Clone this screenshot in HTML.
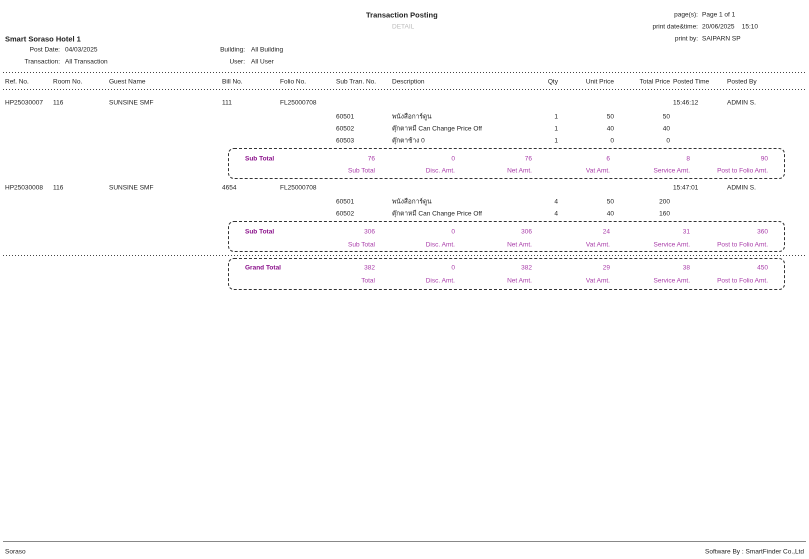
<!DOCTYPE html>
<html><head><meta charset="utf-8"><style>
body{margin:0;width:809px;height:559px;background:#fff;position:relative;overflow:hidden;font-family:"Liberation Sans","Noto Sans CJK SC",sans-serif;font-size:6.5px;color:#222}
.t{position:absolute;white-space:nowrap;line-height:10px;transform:translateY(1.5px)}
.r{text-align:right}
.b{font-weight:bold}
.p{color:#a83aa8}
.pb{color:#8a0f8a;font-weight:bold}
.dl{position:absolute;left:3px;right:3px;height:1px;background:repeating-linear-gradient(90deg,#444 0 1px,transparent 1px 3px)}
.box{position:absolute;left:228px;width:555px;border:1px dashed #333;border-radius:6px}
</style></head><body>
<div class="t b" style="left:366px;top:9px;font-size:7.5px">Transaction Posting</div>
<div class="t" style="left:392px;top:21px;color:#bbb">DETAIL</div>
<div class="t r" style="left:600px;width:98px;top:9px">page(s):</div>
<div class="t" style="left:702px;top:9px">Page 1 of 1</div>
<div class="t r" style="left:600px;width:98px;top:21px">print date&amp;time:</div>
<div class="t" style="left:702px;top:21px">20/06/2025&nbsp;&nbsp;&nbsp;&nbsp;15:10</div>
<div class="t r" style="left:600px;width:98px;top:33px">print by:</div>
<div class="t" style="left:702px;top:33px">SAIPARN SP</div>
<div class="t b" style="left:5px;top:33px;font-size:7.5px">Smart Soraso Hotel 1</div>
<div class="t r" style="left:0;width:60px;top:44px">Post Date:</div>
<div class="t" style="left:65px;top:44px">04/03/2025</div>
<div class="t r" style="left:0;width:60px;top:56px">Transaction:</div>
<div class="t" style="left:65px;top:56px">All Transaction</div>
<div class="t r" style="left:180px;width:65px;top:44px">Building:</div>
<div class="t" style="left:251px;top:44px">All Building</div>
<div class="t r" style="left:180px;width:65px;top:56px">User:</div>
<div class="t" style="left:251px;top:56px">All User</div>
<div class="dl" style="top:72px"></div>
<div class="t" style="left:5px;top:76px">Ref. No.</div>
<div class="t" style="left:53px;top:76px">Room No.</div>
<div class="t" style="left:109px;top:76px">Guest Name</div>
<div class="t" style="left:222px;top:76px">Bill No.</div>
<div class="t" style="left:280px;top:76px">Folio No.</div>
<div class="t" style="left:336px;top:76px">Sub Tran. No.</div>
<div class="t" style="left:392px;top:76px">Description</div>
<div class="t r" style="left:520px;width:38px;top:76px">Qty</div>
<div class="t r" style="left:570px;width:44px;top:76px">Unit Price</div>
<div class="t r" style="left:620px;width:50px;top:76px">Total Price</div>
<div class="t" style="left:673px;top:76px">Posted Time</div>
<div class="t" style="left:727px;top:76px">Posted By</div>
<div class="dl" style="top:89px"></div>

<div class="t" style="left:5px;top:97px">HP25030007</div>
<div class="t" style="left:53px;top:97px">116</div>
<div class="t" style="left:109px;top:97px">SUNSINE SMF</div>
<div class="t" style="left:222px;top:97px">111</div>
<div class="t" style="left:280px;top:97px">FL25000708</div>
<div class="t" style="left:673px;top:97px">15:46:12</div>
<div class="t" style="left:727px;top:97px">ADMIN S.</div>

<div class="t" style="left:336px;top:111px">60501</div><div class="t" style="left:392px;top:111px">พนังสือการ์ดูน</div>
<div class="t r" style="left:520px;width:38px;top:111px">1</div><div class="t r" style="left:570px;width:44px;top:111px">50</div><div class="t r" style="left:620px;width:50px;top:111px">50</div>
<div class="t" style="left:336px;top:123px">60502</div><div class="t" style="left:392px;top:123px">ตุ๊กตาหมี Can Change Price Off</div>
<div class="t r" style="left:520px;width:38px;top:123px">1</div><div class="t r" style="left:570px;width:44px;top:123px">40</div><div class="t r" style="left:620px;width:50px;top:123px">40</div>
<div class="t" style="left:336px;top:135px">60503</div><div class="t" style="left:392px;top:135px">ตุ๊กตาช้าง 0</div>
<div class="t r" style="left:520px;width:38px;top:135px">1</div><div class="t r" style="left:570px;width:44px;top:135px">0</div><div class="t r" style="left:620px;width:50px;top:135px">0</div>

<div class="box" style="top:148px;height:29px"></div>
<div class="t pb" style="left:245px;top:153px">Sub Total</div>
<div class="t r p" style="left:300px;width:75px;top:153px">76</div><div class="t r p" style="left:380px;width:75px;top:153px">0</div><div class="t r p" style="left:457px;width:75px;top:153px">76</div><div class="t r p" style="left:535px;width:75px;top:153px">6</div><div class="t r p" style="left:615px;width:75px;top:153px">8</div><div class="t r p" style="left:693px;width:75px;top:153px">90</div>
<div class="t r p" style="left:300px;width:75px;top:165px">Sub Total</div><div class="t r p" style="left:380px;width:75px;top:165px">Disc. Amt.</div><div class="t r p" style="left:457px;width:75px;top:165px">Net Amt.</div><div class="t r p" style="left:535px;width:75px;top:165px">Vat Amt.</div><div class="t r p" style="left:615px;width:75px;top:165px">Service Amt.</div><div class="t r p" style="left:693px;width:75px;top:165px">Post to Folio Amt.</div>

<div class="t" style="left:5px;top:182px">HP25030008</div>
<div class="t" style="left:53px;top:182px">116</div>
<div class="t" style="left:109px;top:182px">SUNSINE SMF</div>
<div class="t" style="left:222px;top:182px">4654</div>
<div class="t" style="left:280px;top:182px">FL25000708</div>
<div class="t" style="left:673px;top:182px">15:47:01</div>
<div class="t" style="left:727px;top:182px">ADMIN S.</div>

<div class="t" style="left:336px;top:196px">60501</div><div class="t" style="left:392px;top:196px">พนังสือการ์ดูน</div>
<div class="t r" style="left:520px;width:38px;top:196px">4</div><div class="t r" style="left:570px;width:44px;top:196px">50</div><div class="t r" style="left:620px;width:50px;top:196px">200</div>
<div class="t" style="left:336px;top:208px">60502</div><div class="t" style="left:392px;top:208px">ตุ๊กตาหมี Can Change Price Off</div>
<div class="t r" style="left:520px;width:38px;top:208px">4</div><div class="t r" style="left:570px;width:44px;top:208px">40</div><div class="t r" style="left:620px;width:50px;top:208px">160</div>

<div class="box" style="top:221px;height:29px"></div>
<div class="t pb" style="left:245px;top:226px">Sub Total</div>
<div class="t r p" style="left:300px;width:75px;top:226px">306</div><div class="t r p" style="left:380px;width:75px;top:226px">0</div><div class="t r p" style="left:457px;width:75px;top:226px">306</div><div class="t r p" style="left:535px;width:75px;top:226px">24</div><div class="t r p" style="left:615px;width:75px;top:226px">31</div><div class="t r p" style="left:693px;width:75px;top:226px">360</div>
<div class="t r p" style="left:300px;width:75px;top:239px">Sub Total</div><div class="t r p" style="left:380px;width:75px;top:239px">Disc. Amt.</div><div class="t r p" style="left:457px;width:75px;top:239px">Net Amt.</div><div class="t r p" style="left:535px;width:75px;top:239px">Vat Amt.</div><div class="t r p" style="left:615px;width:75px;top:239px">Service Amt.</div><div class="t r p" style="left:693px;width:75px;top:239px">Post to Folio Amt.</div>

<div class="dl" style="top:255px"></div>
<div class="box" style="top:258px;height:30px"></div>
<div class="t pb" style="left:245px;top:262px">Grand Total</div>
<div class="t r p" style="left:300px;width:75px;top:262px">382</div><div class="t r p" style="left:380px;width:75px;top:262px">0</div><div class="t r p" style="left:457px;width:75px;top:262px">382</div><div class="t r p" style="left:535px;width:75px;top:262px">29</div><div class="t r p" style="left:615px;width:75px;top:262px">38</div><div class="t r p" style="left:693px;width:75px;top:262px">450</div>
<div class="t r p" style="left:300px;width:75px;top:275px">Total</div><div class="t r p" style="left:380px;width:75px;top:275px">Disc. Amt.</div><div class="t r p" style="left:457px;width:75px;top:275px">Net Amt.</div><div class="t r p" style="left:535px;width:75px;top:275px">Vat Amt.</div><div class="t r p" style="left:615px;width:75px;top:275px">Service Amt.</div><div class="t r p" style="left:693px;width:75px;top:275px">Post to Folio Amt.</div>

<div style="position:absolute;left:3px;right:3px;top:541px;border-top:1px solid #888"></div>
<div class="t" style="left:5px;top:546px">Soraso</div>
<div class="t r" style="left:600px;width:204px;top:546px">Software By : SmartFinder Co.,Ltd</div>
</body></html>
